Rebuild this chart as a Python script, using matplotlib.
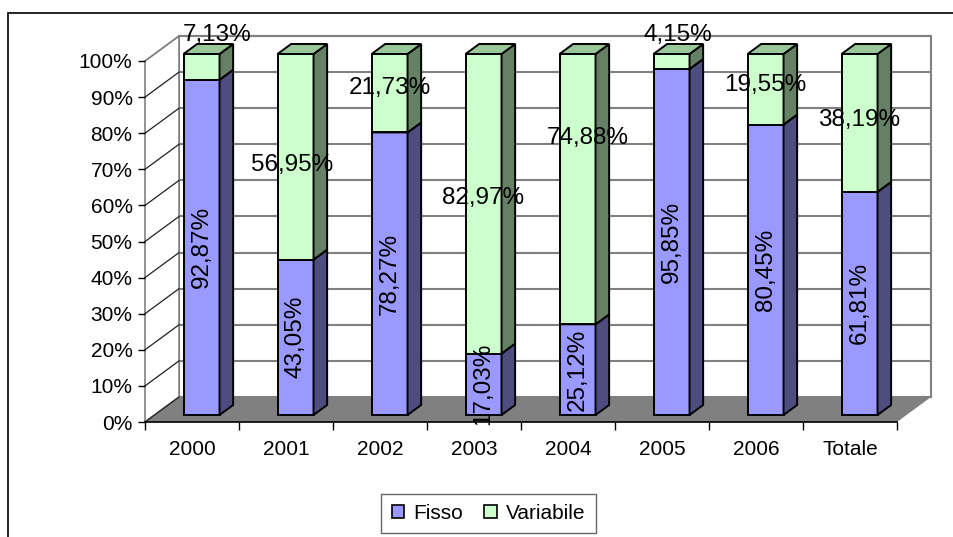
import matplotlib
matplotlib.use("Agg")
import matplotlib.pyplot as plt
from matplotlib.patches import Polygon, Rectangle, Patch

plt.rcParams["font.family"] = ["Liberation Sans", "DejaVu Sans"]

# quote fisse / variabili per anno
categories = ["2000", "2001", "2002", "2003", "2004", "2005", "2006", "Totale"]
fisso = [92.87, 43.05, 78.27, 17.03, 25.12, 95.85, 80.45, 61.81]
variabile = [7.13, 56.95, 21.73, 82.97, 74.88, 4.15, 19.55, 38.19]

# where the "Variabile" labels end up (percent on the front plane) + x nudges
var_label_y = [107.2, 71.2, 92.5, 62.0, 78.7, 107.2, 93.4, 83.7]
var_label_dx = [0.17, -0.04, 0.0, 0.0, 0.11, 0.07, 0.0, 0.0]

C_FISSO = "#9999FF"
C_FISSO_SIDE = "#4D4D80"
C_FISSO_TOP = "#7373BF"
C_VAR = "#CCFFCC"
C_VAR_SIDE = "#668066"
C_VAR_TOP = "#99C799"

# fake 3D: depth offsets in data units
WX, WY = 0.362, 6.93           # back wall offset
FX, FY = 0.28 * WX, 0.28 * WY  # bar front plane
BX, BY = 0.40 * WX, 0.40 * WY  # bar depth
BAR_W = 0.383

fig = plt.figure(figsize=(9.54, 5.37), dpi=100)
ax = fig.add_axes([145 / 954, 1 - 422 / 537, 752 / 954, 361 / 537])
ax.set_xlim(0, len(categories))
ax.set_ylim(0, 100)
ax.patch.set_visible(False)
for s in ax.spines.values():
    s.set_visible(False)

n = len(categories)

# left wall
ax.add_patch(Polygon([(0, 0), (0, 100), (WX, 100 + WY), (WX, WY)], closed=True,
                     facecolor="white", edgecolor="#808080", lw=1.2, zorder=1, clip_on=False))
# back wall
ax.add_patch(Rectangle((WX, WY), n, 100, facecolor="white", edgecolor="#808080",
                       lw=1.5, zorder=0.9, clip_on=False))
# floor
ax.add_patch(Polygon([(0, 0), (n, 0), (n + WX, WY), (WX, WY)], closed=True,
                     facecolor="#808080", edgecolor="none", zorder=1.1, clip_on=False))

for v in range(10, 101, 10):
    ax.plot([WX, n + WX], [v + WY, v + WY], color="#808080", lw=1.5,
            zorder=1.2, clip_on=False)
for v in range(0, 101, 10):
    ax.plot([0, WX], [v, v + WY], color="#202020" if v < 100 else "#808080",
            lw=0.9, zorder=1.3, clip_on=False)

ax.plot([0, n], [0, 0], color="black", lw=1.2, zorder=1.4, clip_on=False)


def box(x0, y0, h, front, side, top):
    x1 = x0 + BAR_W
    y1 = y0 + h
    ax.add_patch(Polygon([(x0, y0), (x1, y0), (x1, y1), (x0, y1)], closed=True,
                         facecolor=front, edgecolor="black", lw=1.4, zorder=3, clip_on=False))
    ax.add_patch(Polygon([(x1, y0), (x1 + BX, y0 + BY), (x1 + BX, y1 + BY), (x1, y1)],
                         closed=True, facecolor=side, edgecolor="black", lw=1.4,
                         zorder=3, clip_on=False))
    ax.add_patch(Polygon([(x0, y1), (x1, y1), (x1 + BX, y1 + BY), (x0 + BX, y1 + BY)],
                         closed=True, facecolor=top, edgecolor="black", lw=1.4,
                         zorder=3, clip_on=False))


for i in range(n):
    x0 = i + 0.5 - BAR_W / 2 + FX
    box(x0, FY, fisso[i], C_FISSO, C_FISSO_SIDE, C_FISSO_TOP)
    box(x0, FY + fisso[i], variabile[i], C_VAR, C_VAR_SIDE, C_VAR_TOP)
    xc = x0 + BAR_W / 2
    ax.text(xc, FY + fisso[i] / 2, f"{fisso[i]:.2f}%".replace(".", ","),
            rotation=90, ha="center", va="center", fontsize=17.5, zorder=5)
    ax.text(xc + var_label_dx[i], var_label_y[i], f"{variabile[i]:.2f}%".replace(".", ","),
            ha="center", va="center", fontsize=17.5, zorder=5, clip_on=False)

# axes ticks
ax.set_yticks(range(0, 101, 10))
ax.set_yticklabels([f"{v}%" for v in range(0, 101, 10)], fontsize=15)
ax.tick_params(axis="y", length=5, width=1, pad=4, direction="out")
ax.set_xticks([i + 0.5 for i in range(n)])
ax.set_xticklabels(categories, fontsize=15)
ax.set_xticks(range(n + 1), minor=True)
ax.tick_params(axis="x", which="major", length=0, pad=13)
ax.tick_params(axis="x", which="minor", length=6, width=1, direction="out")

handles = [Patch(facecolor=C_FISSO, edgecolor="black", lw=1.2, label="Fisso"),
           Patch(facecolor=C_VAR, edgecolor="black", lw=1.2, label="Variabile")]
leg = fig.legend(handles=handles, loc="center", bbox_to_anchor=(488.5 / 954, 1 - 513.5 / 537),
                 ncol=2, fontsize=15, frameon=True, fancybox=False, handlelength=0.6,
                 handleheight=0.6, handletextpad=0.45, columnspacing=1.0,
                 borderpad=0.5)
leg.get_frame().set_edgecolor("#404040")
leg.get_frame().set_linewidth(1.0)

# chart area border
fig.patches.append(Rectangle((8 / 954, -0.1), 1.2, 1 - 13 / 537 + 0.1,
                             transform=fig.transFigure, fill=False,
                             edgecolor="black", lw=1.2))

fig.savefig("out.png", dpi=100)
